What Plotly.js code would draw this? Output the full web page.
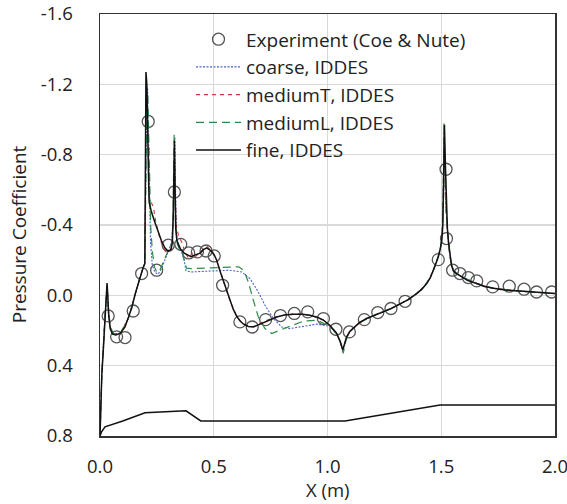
<!DOCTYPE html>
<html>
<head>
<meta charset="utf-8">
<script src="https://cdn.plot.ly/plotly-3.0.1.min.js"></script>
<style>html,body{margin:0;padding:0;background:#fff}#chart{width:567px;height:504px}</style>
</head>
<body>
<div id="chart"></div>
<script>
// Experiment (Coe & Nute)
var expX = [0.036,0.073,0.110,0.146,0.183,0.212,0.249,0.300,0.327,0.355,0.390,0.428,0.466,0.502,0.539,0.615,0.669,0.728,0.793,0.854,0.913,0.982,1.037,1.096,1.162,1.221,1.279,1.341,1.487,1.521,1.523,1.550,1.582,1.619,1.656,1.726,1.799,1.864,1.919,1.985];
var expY = [0.117,0.236,0.240,0.089,-0.124,-0.989,-0.143,-0.285,-0.588,-0.290,-0.241,-0.247,-0.252,-0.224,-0.057,0.151,0.180,0.138,0.115,0.103,0.094,0.132,0.193,0.208,0.138,0.098,0.075,0.034,-0.203,-0.717,-0.323,-0.143,-0.124,-0.101,-0.082,-0.048,-0.052,-0.035,-0.019,-0.019];

// coarse, IDDES
var coarseX = [0,0.008,0.022,0.031,0.036,0.045,0.06,0.09,0.125,0.155,0.18,0.197,0.2,0.205,0.209,0.212,0.215,0.218,0.222,0.23,0.242,0.255,0.27,0.285,0.3,0.315,0.322,0.326,0.329,0.332,0.336,0.345,0.36,0.37,0.378,0.4,0.45,0.5,0.571,0.623,0.659,0.696,0.725,0.762,0.799,0.835,0.894,0.952,1.011,1.04,1.055,1.068,1.08,1.098,1.14,1.21,1.28,1.355,1.415,1.452,1.477,1.495,1.505,1.511,1.514,1.518,1.524,1.532,1.545,1.565,1.615,1.69,1.78,1.92,2.0];
var coarseY = [0.8,0.45,0.12,-0.05,0.08,0.18,0.22,0.215,0.13,-0.01,-0.12,-0.18,-0.6,-1.1,-1.18,-1.0,-0.75,-0.5,-0.3,-0.17,-0.13,-0.12,-0.15,-0.2,-0.25,-0.3,-0.45,-0.7,-0.9,-0.6,-0.35,-0.28,-0.24,-0.2,-0.14,-0.133,-0.135,-0.138,-0.143,-0.133,-0.095,-0.019,0.056,0.132,0.18,0.189,0.176,0.164,0.176,0.215,0.26,0.32,0.26,0.205,0.155,0.11,0.075,0.025,-0.035,-0.1,-0.18,-0.26,-0.35,-0.6,-0.9,-0.7,-0.42,-0.3,-0.17,-0.125,-0.085,-0.05,-0.031,-0.016,-0.01];

// mediumT, IDDES
var medTX = [0,0.008,0.022,0.031,0.036,0.045,0.06,0.09,0.125,0.155,0.18,0.197,0.2,0.204,0.208,0.212,0.216,0.225,0.235,0.245,0.26,0.275,0.29,0.305,0.316,0.322,0.326,0.328,0.331,0.335,0.345,0.36,0.375,0.39,0.405,0.42,0.44,0.455,0.469,0.491,0.513,0.542,0.571,0.601,0.63,0.674,0.718,0.777,0.85,0.923,0.982,1.026,1.048,1.067,1.084,1.113,1.172,1.245,1.319,1.392,1.436,1.465,1.487,1.502,1.508,1.512,1.515,1.52,1.527,1.538,1.553,1.582,1.656,1.729,1.846,2.0];
var medTY = [0.8,0.45,0.12,-0.06,0.05,0.18,0.22,0.215,0.13,-0.01,-0.12,-0.18,-0.7,-1.12,-1.05,-0.8,-0.56,-0.53,-0.5,-0.42,-0.34,-0.28,-0.245,-0.25,-0.28,-0.45,-0.72,-0.85,-0.6,-0.4,-0.34,-0.3,-0.24,-0.21,-0.24,-0.22,-0.25,-0.26,-0.28,-0.25,-0.2,-0.09,0.03,0.12,0.165,0.178,0.15,0.12,0.105,0.112,0.14,0.195,0.24,0.315,0.236,0.185,0.132,0.094,0.05,-0.01,-0.067,-0.143,-0.218,-0.31,-0.5,-0.93,-0.7,-0.5,-0.37,-0.22,-0.14,-0.112,-0.067,-0.04,-0.024,-0.01];

// mediumL, IDDES
var medLX = [0,0.008,0.022,0.031,0.036,0.045,0.06,0.09,0.125,0.155,0.18,0.197,0.201,0.206,0.21,0.213,0.216,0.219,0.223,0.23,0.24,0.25,0.262,0.275,0.29,0.305,0.317,0.321,0.324,0.326,0.329,0.332,0.34,0.35,0.362,0.372,0.38,0.4,0.45,0.52,0.571,0.61,0.633,0.652,0.674,0.696,0.725,0.755,0.791,0.835,0.894,0.952,1.011,1.04,1.055,1.069,1.082,1.098,1.14,1.21,1.28,1.355,1.415,1.452,1.477,1.495,1.504,1.509,1.512,1.515,1.52,1.527,1.538,1.553,1.582,1.656,1.729,1.846,2.0];
var medLY = [0.8,0.45,0.12,-0.06,0.06,0.18,0.22,0.215,0.13,-0.01,-0.12,-0.18,-0.7,-1.1,-1.15,-0.95,-0.77,-0.55,-0.39,-0.25,-0.16,-0.13,-0.14,-0.18,-0.23,-0.27,-0.3,-0.45,-0.75,-0.92,-0.65,-0.4,-0.29,-0.26,-0.24,-0.2,-0.155,-0.152,-0.155,-0.16,-0.162,-0.162,-0.14,-0.076,0.028,0.123,0.189,0.217,0.198,0.176,0.147,0.141,0.176,0.22,0.26,0.33,0.25,0.207,0.155,0.11,0.075,0.025,-0.035,-0.1,-0.18,-0.26,-0.33,-0.55,-0.98,-0.72,-0.5,-0.37,-0.22,-0.14,-0.112,-0.067,-0.04,-0.024,-0.01];

// fine, IDDES
var fineX = [0,0.004,0.008,0.015,0.022,0.027,0.031,0.034,0.038,0.045,0.055,0.07,0.09,0.11,0.125,0.14,0.155,0.17,0.18,0.19,0.197,0.199,0.202,0.206,0.21,0.213,0.216,0.225,0.24,0.255,0.27,0.285,0.3,0.312,0.318,0.322,0.325,0.327,0.33,0.333,0.338,0.345,0.355,0.37,0.385,0.4,0.42,0.44,0.455,0.469,0.48,0.491,0.502,0.513,0.527,0.542,0.557,0.571,0.586,0.601,0.615,0.63,0.652,0.674,0.696,0.718,0.75,0.777,0.81,0.85,0.89,0.923,0.955,0.982,1.01,1.026,1.04,1.048,1.058,1.067,1.075,1.084,1.098,1.113,1.14,1.172,1.21,1.245,1.28,1.319,1.355,1.392,1.415,1.436,1.452,1.465,1.477,1.487,1.495,1.502,1.507,1.510,1.514,1.518,1.522,1.527,1.532,1.538,1.545,1.553,1.565,1.582,1.615,1.656,1.69,1.729,1.78,1.846,1.92,2.0];
var fineY = [0.8,0.6,0.45,0.3,0.12,0.0,-0.07,0.0,0.11,0.19,0.22,0.225,0.215,0.18,0.13,0.07,-0.01,-0.08,-0.12,-0.16,-0.18,-0.7,-1.27,-1.2,-1.0,-0.7,-0.53,-0.48,-0.42,-0.36,-0.31,-0.27,-0.25,-0.26,-0.3,-0.45,-0.7,-0.88,-0.6,-0.38,-0.31,-0.29,-0.26,-0.24,-0.23,-0.22,-0.23,-0.24,-0.26,-0.27,-0.26,-0.25,-0.23,-0.2,-0.14,-0.086,-0.03,0.028,0.08,0.119,0.145,0.163,0.177,0.18,0.168,0.152,0.135,0.123,0.112,0.107,0.107,0.113,0.125,0.141,0.17,0.195,0.215,0.24,0.27,0.31,0.27,0.236,0.205,0.185,0.155,0.132,0.11,0.094,0.075,0.05,0.025,-0.01,-0.035,-0.067,-0.1,-0.143,-0.18,-0.218,-0.26,-0.31,-0.4,-0.6,-0.97,-0.75,-0.5,-0.38,-0.3,-0.22,-0.17,-0.14,-0.125,-0.112,-0.085,-0.067,-0.05,-0.04,-0.031,-0.024,-0.016,-0.01];

// body geometry outline
var geoX = [0,0.007,0.022,0.1,0.198,0.3,0.378,0.443,1.077,1.495,2.0];
var geoY = [0.8,0.776,0.748,0.715,0.668,0.66,0.657,0.714,0.714,0.624,0.624];

var xTickVals = [0,0.5,1.0,1.5,2.0];
var xTickText = ["0.0","0.5","1.0","1.5","2.0"];
var yTickVals = [-1.6,-1.2,-0.8,-0.4,0,0.4,0.8];
var yTickText = ["-1.6","-1.2","-0.8","-0.4","0.0","0.4","0.8"];

var FONT = "'Open Sans', Lato, sans-serif";
var traces = [
  {x: expX, y: expY, type:'scatter', mode:'markers', name:'Experiment (Coe &amp; Nute)',
   marker:{symbol:'circle-open', size:12, color:'#555', line:{width:1.3, color:'#555'}}},
  {x: coarseX, y: coarseY, type:'scatter', mode:'lines', name:'coarse, IDDES',
   line:{color:'#4a62c4', width:1.1, dash:'2px,1.5px'}},
  {x: medTX, y: medTY, type:'scatter', mode:'lines', name:'mediumT, IDDES',
   line:{color:'#c83c3c', width:1.1, dash:'4px,4px'}},
  {x: medLX, y: medLY, type:'scatter', mode:'lines', name:'mediumL, IDDES',
   line:{color:'#2e8a4a', width:1.2, dash:'8px,5px'}},
  {x: fineX, y: fineY, type:'scatter', mode:'lines', name:'fine, IDDES',
   line:{color:'#111', width:1.5}},
  {x: geoX, y: geoY, type:'scatter', mode:'lines', showlegend:false, hoverinfo:'skip',
   line:{color:'#111', width:1.5}}
];

var layout = {
  width:567, height:504,
  margin:{l:100, r:12, t:14, b:68},
  paper_bgcolor:'#fff', plot_bgcolor:'#fff',
  font:{family:FONT, color:'#222', size:18},
  showlegend:true,
  legend:{x:0.2, y:0.985, xanchor:'left', yanchor:'top', bgcolor:'rgba(0,0,0,0)',
          font:{family:FONT, size:19, color:'#222'}, itemwidth:45, tracegroupgap:0},
  xaxis:{range:[0,2.0], tickvals:xTickVals, ticktext:xTickText, showgrid:true, gridcolor:'#d9d9d9', gridwidth:1.2,
         zeroline:false, showline:true, mirror:true, linecolor:'#333', linewidth:1.5, ticks:'',
         ticklabeloverflow:'allow', ticklabelstandoff:13, tickfont:{family:FONT, size:18.5, color:'#222'}},
  yaxis:{range:[0.8,-1.6], tickvals:yTickVals, ticktext:yTickText, showgrid:true, gridcolor:'#d9d9d9', gridwidth:1.2,
         zeroline:false, showline:true, mirror:true, linecolor:'#333', linewidth:1.5, ticks:'',
         ticklabeloverflow:'allow', ticklabelstandoff:22, tickfont:{family:FONT, size:18.5, color:'#222'}},
  annotations:[
    {text:'Pressure Coefficient', xref:'paper', yref:'paper', x:-0.178, y:0.478,
     xanchor:'center', yanchor:'middle', textangle:-90, showarrow:false,
     font:{family:FONT, size:19, color:'#222'}},
    {text:'X (m)', xref:'paper', yref:'paper', x:0.5, y:-0.1276,
     xanchor:'center', yanchor:'middle', showarrow:false,
     font:{family:FONT, size:18.5, color:'#222'}}
  ]
};
Plotly.newPlot('chart', traces, layout, {displayModeBar:false, staticPlot:true});
</script>
</body>
</html>
